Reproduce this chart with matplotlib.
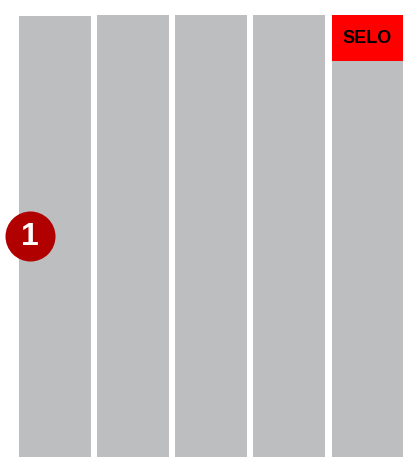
import matplotlib
matplotlib.use("Agg")
import matplotlib.pyplot as plt

plt.rcParams["font.family"] = ["Liberation Sans", "DejaVu Sans"]

CATEGORIES = [0, 1, 2, 3, 4]
BAR_VALUES = [96.5, 96.7, 96.7, 96.7, 96.7]
SELO_INDEX = 4
SELO_SIZE = 10.1
SELO_LABEL = "SELO"
MARKER_LABEL = "1"
MARKER_POS = (-0.32, 48.4)

GRAY = "#bcbec0"
RED = "#ff0000"
DARK_RED = "#b00000"

fig = plt.figure(figsize=(4.04, 4.57), dpi=100)
ax = fig.add_axes([0, 0, 1, 1])

# bars run past the bottom edge of the picture
ax.bar(CATEGORIES, [v + 2 for v in BAR_VALUES], bottom=-2, width=0.92,
       color=GRAY, linewidth=0)

selo_bottom = BAR_VALUES[SELO_INDEX] - SELO_SIZE
ax.bar([CATEGORIES[SELO_INDEX]], [SELO_SIZE], bottom=selo_bottom,
       width=0.92, color=RED, linewidth=0)
ax.text(CATEGORIES[SELO_INDEX], selo_bottom + SELO_SIZE / 2, SELO_LABEL,
        ha="center", va="center", fontsize=13, fontweight="bold", color="black")

ax.plot([MARKER_POS[0]], [MARKER_POS[1]], "o", markersize=36,
        color=DARK_RED, markeredgewidth=0)
ax.text(MARKER_POS[0], MARKER_POS[1] - 0.3, MARKER_LABEL, ha="center", va="center",
        fontsize=23, fontweight="bold", color="white")

ax.set_xlim(-0.704, 4.467)
ax.set_ylim(0, 100)
ax.axis("off")

fig.savefig("out.png", dpi=100)
